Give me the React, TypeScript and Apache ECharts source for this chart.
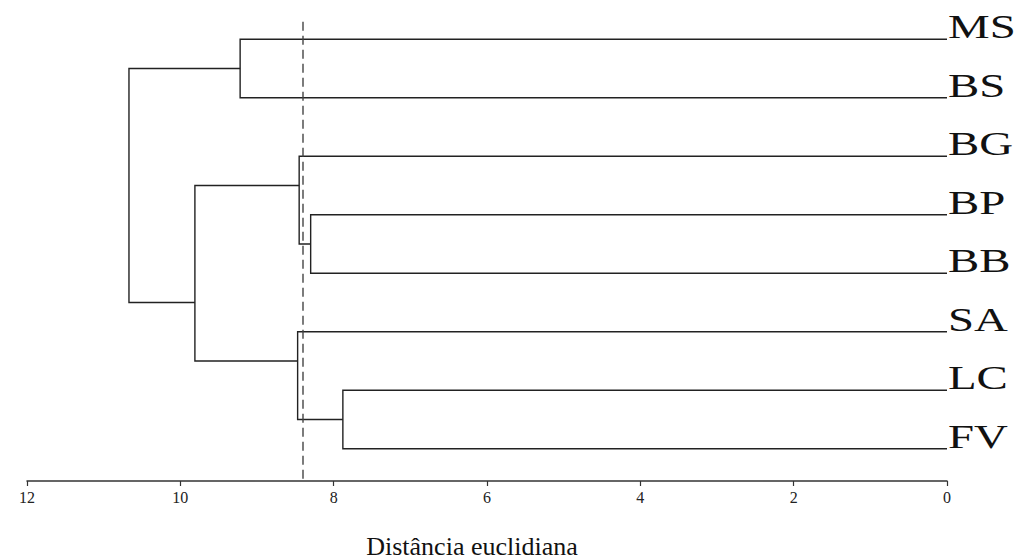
import React, { useEffect, useRef } from "react";
import * as echarts from "echarts";

// Leaves (top to bottom)
const leaves = ["MS", "BS", "BG", "BP", "BB", "SA", "LC", "FV"];

// Merges of the dendrogram
const mergeNames = ["MS-BS", "BP-BB", "BG-BPBB", "LC-FV", "SA-LCFV", "MID", "ROOT"];
const mergeLeft = ["MS", "BP", "BG", "LC", "SA", "BG-BPBB", "MS-BS"];
const mergeRight = ["BS", "BB", "BP-BB", "FV", "LC-FV", "SA-LCFV", "MID"];
const mergeHeights = [9.22, 8.3, 8.45, 7.88, 8.47, 9.81, 10.67];
const mergePos = [0.5, 3.5, 2.5, 6.5, 5.5, 4.5, 2.5];

// Cut line
const cutHeight = 8.4;

// Axis ticks
const xTicks = [0, 2, 4, 6, 8, 10, 12];
const axisTitle = "Distância euclidiana";

function posOf(name: string): number {
  const li = leaves.indexOf(name);
  if (li >= 0) return li;
  return mergePos[mergeNames.indexOf(name)];
}
function heightOf(name: string): number {
  const li = leaves.indexOf(name);
  if (li >= 0) return 0;
  return mergeHeights[mergeNames.indexOf(name)];
}

export default function App() {
  const ref = useRef<HTMLDivElement>(null);
  useEffect(() => {
    document.body.style.margin = "0";
    if (!ref.current) return;
    const chart = echarts.init(ref.current, null, { renderer: "svg" });
    const linkData = mergeNames.map((n, i) => [
      mergeHeights[i],
      posOf(mergeLeft[i]),
      posOf(mergeRight[i]),
      heightOf(mergeLeft[i]),
      heightOf(mergeRight[i]),
    ]);
    const labelData = leaves.map((l, i) => [0, i, l]);
    chart.setOption({
      animation: false,
      backgroundColor: "#ffffff",
      grid: { left: 27, right: 74, top: 10, bottom: 78, containLabel: false, outerBoundsMode: "none" },
      xAxis: {
        type: "value",
        position: "bottom",
        inverse: true,
        min: 0,
        max: 12,
        interval: 2,
        splitLine: { show: false },
        axisLine: { show: true, onZero: false, lineStyle: { color: "#333", width: 1.5 } },
        axisTick: { show: true, length: 5, lineStyle: { color: "#333", width: 1.2 } },
        axisLabel: {
          color: "#222",
          fontFamily: "Liberation Serif",
          fontSize: 16,
          margin: 8,
          customValues: xTicks,
        },
        name: axisTitle,
        nameLocation: "middle",
        nameGap: 52,
        nameTextStyle: {
          color: "#111",
          fontFamily: "Liberation Serif",
          fontSize: 26,
          padding: [0, 30, 0, 0],
        },
      },
      yAxis: {
        type: "value",
        inverse: true,
        min: -0.5,
        max: 7.55,
        show: false,
      },
      series: [
        {
          type: "custom",
          clip: false,
          data: linkData,
          renderItem: (params: any, api: any) => {
            const h = api.value(0);
            const pL = api.value(1);
            const pR = api.value(2);
            const hL = api.value(3);
            const hR = api.value(4);
            return {
              type: "polyline",
              shape: {
                points: [
                  api.coord([hL, pL]),
                  api.coord([h, pL]),
                  api.coord([h, pR]),
                  api.coord([hR, pR]),
                ],
              },
              style: { stroke: "#222", lineWidth: 1.4, fill: "none" },
            };
          },
        },
        {
          type: "line",
          data: [
            [cutHeight, -0.3],
            [cutHeight, 7.55],
          ],
          symbol: "none",
          lineStyle: { color: "#444", width: 1.4, type: [9, 5] },
        },
        {
          type: "custom",
          clip: false,
          data: labelData,
          renderItem: (params: any, api: any) => {
            const c = api.coord([api.value(0), api.value(1)]);
            return {
              type: "text",
              x: c[0] + 1,
              y: c[1] - 12,
              scaleX: 1.42,
              style: {
                text: leaves[params.dataIndex],
                fontFamily: "Liberation Serif",
                fontSize: 33,
                fill: "#111",
                align: "left",
                verticalAlign: "middle",
              },
            };
          },
        },
      ],
    });
    return () => chart.dispose();
  }, []);
  return <div ref={ref} style={{ width: 1021, height: 559 }} />;
}
